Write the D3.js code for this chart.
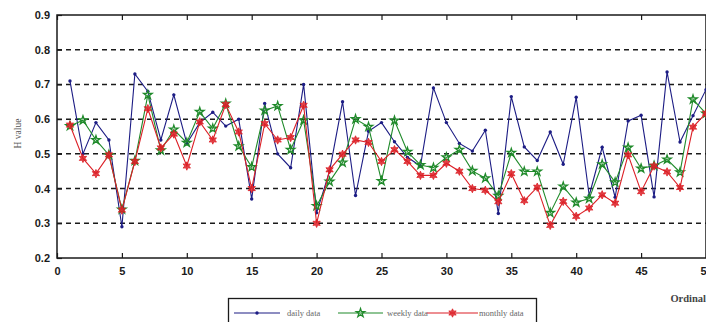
<!DOCTYPE html>
<html>
<head>
<meta charset="utf-8">
<script src="https://cdn.jsdelivr.net/npm/d3@7"></script>
<style>
  html, body { margin: 0; padding: 0; background: #fff; }
  svg { display: block; }
</style>
</head>
<body>
<svg id="chart"></svg>
<script>
const ordinal = [1, 2, 3, 4, 5, 6, 7, 8, 9, 10, 11, 12, 13, 14, 15, 16, 17, 18, 19, 20,
  21, 22, 23, 24, 25, 26, 27, 28, 29, 30, 31, 32, 33, 34, 35, 36, 37, 38, 39, 40,
  41, 42, 43, 44, 45, 46, 47, 48, 49, 50];

const daily = [0.71, 0.50, 0.59, 0.54, 0.29, 0.73, 0.68, 0.54, 0.67, 0.53,
  0.59, 0.62, 0.58, 0.60, 0.37, 0.645, 0.50, 0.46, 0.70, 0.33,
  0.45, 0.65, 0.38, 0.565, 0.59, 0.535, 0.49, 0.465, 0.69, 0.59,
  0.53, 0.508, 0.568, 0.328, 0.665, 0.52, 0.481, 0.563, 0.47, 0.663,
  0.38, 0.519, 0.375, 0.595, 0.611, 0.376, 0.736, 0.534, 0.61, 0.685];

const weekly = [0.58, 0.597, 0.54, 0.497, 0.34, 0.48, 0.67, 0.51, 0.57, 0.532,
  0.621, 0.573, 0.645, 0.522, 0.462, 0.625, 0.638, 0.512, 0.597, 0.35,
  0.42, 0.475, 0.60, 0.578, 0.422, 0.596, 0.506, 0.468, 0.46, 0.49,
  0.512, 0.451, 0.43, 0.379, 0.503, 0.449, 0.449, 0.33, 0.406, 0.36,
  0.371, 0.47, 0.418, 0.518, 0.458, 0.466, 0.484, 0.447, 0.657, 0.616];

const monthly = [0.583, 0.487, 0.443, 0.497, 0.338, 0.478, 0.63, 0.517, 0.557, 0.465,
  0.592, 0.54, 0.642, 0.563, 0.40, 0.587, 0.54, 0.547, 0.64, 0.30,
  0.454, 0.499, 0.54, 0.533, 0.478, 0.512, 0.478, 0.438, 0.438, 0.473,
  0.45, 0.40, 0.395, 0.362, 0.443, 0.365, 0.404, 0.294, 0.363, 0.32,
  0.344, 0.382, 0.358, 0.497, 0.391, 0.465, 0.448, 0.403, 0.577, 0.617];

const xTicks = [0, 5, 10, 15, 20, 25, 30, 35, 40, 45, 50];
const yTicks = [0.2, 0.3, 0.4, 0.5, 0.6, 0.7, 0.8, 0.9];
const gridValues = [0.3, 0.4, 0.5, 0.6, 0.7, 0.8];

const seriesNames = ['daily data', 'weekly data', 'monthly data'];

const width = 706, height = 322;
const margin = { top: 15, right: 0, bottom: 64, left: 57 };

const svg = d3.select('#chart')
  .attr('width', width)
  .attr('height', height);

const x = d3.scaleLinear().domain([0, 50]).range([margin.left, width - margin.right]);
const y = d3.scaleLinear().domain([0.2, 0.9]).range([height - margin.bottom, margin.top]);

const ink = '#1a1a1a';

// dashed grid
svg.append('g')
  .selectAll('line')
  .data(gridValues)
  .join('line')
  .attr('x1', x(0))
  .attr('x2', x(50))
  .attr('y1', d => y(d))
  .attr('y2', d => y(d))
  .attr('stroke', ink)
  .attr('stroke-width', 1.5)
  .attr('stroke-dasharray', '5,4');

// axes (ticks pointing inward, matlab style)
const tickFont = g => g.selectAll('text')
  .attr('font-family', 'Arial, "Liberation Sans", sans-serif')
  .attr('font-weight', 'bold')
  .attr('font-size', 11)
  .attr('fill', ink);

svg.append('g')
  .attr('transform', `translate(0,${y(0.2)})`)
  .call(d3.axisBottom(x).tickValues(xTicks).tickSize(-5).tickPadding(9).tickFormat(d3.format('d')))
  .call(g => g.select('.domain').remove())
  .call(tickFont);

svg.append('g')
  .attr('transform', `translate(0,${y(0.9)})`)
  .call(d3.axisTop(x).tickValues(xTicks).tickSize(-5).tickFormat(''))
  .call(g => g.select('.domain').remove());

svg.append('g')
  .attr('transform', `translate(${x(0)},0)`)
  .call(d3.axisLeft(y).tickValues(yTicks).tickSize(-5).tickPadding(7).tickFormat(d3.format('.1f')))
  .call(g => g.select('.domain').remove())
  .call(tickFont);

svg.selectAll('.tick line').attr('stroke', ink).attr('stroke-width', 1.2);

// frame
svg.append('rect')
  .attr('x', x(0))
  .attr('y', y(0.9))
  .attr('width', x(50) - x(0))
  .attr('height', y(0.2) - y(0.9))
  .attr('fill', 'none')
  .attr('stroke', ink)
  .attr('stroke-width', 1.5);

// series
const hexagram = (r) => {
  const p = d3.path();
  for (let i = 0; i < 12; i++) {
    const a = Math.PI / 6 * i - Math.PI / 2;
    const rr = i % 2 === 0 ? r : r * 0.5;
    const px = rr * Math.cos(a), py = rr * Math.sin(a);
    if (i === 0) p.moveTo(px, py); else p.lineTo(px, py);
  }
  p.closePath();
  return p.toString();
};

const series = [
  { name: seriesNames[0], values: daily, color: '#1c1c84', marker: 'dot' },
  { name: seriesNames[1], values: weekly, color: '#1f8a2a', marker: 'pentagram' },
  { name: seriesNames[2], values: monthly, color: '#dc1f26', marker: 'hexagram' },
];

const line = d3.line()
  .x((d, i) => x(ordinal[i]))
  .y(d => y(d));

const drawMarker = (sel, s) => {
  if (s.marker === 'dot') {
    sel.append('circle').attr('r', 1.7).attr('fill', s.color);
  } else if (s.marker === 'pentagram') {
    sel.append('path')
      .attr('d', d3.symbol(d3.symbolStar, 22)())
      .attr('fill', 'none')
      .attr('stroke', s.color)
      .attr('stroke-width', 1.3);
  } else {
    sel.append('path')
      .attr('d', hexagram(4.2))
      .attr('fill', s.color)
      .attr('fill-opacity', 0.85)
      .attr('stroke', s.color)
      .attr('stroke-width', 0.8);
  }
};

// matlab draws in order daily, weekly, monthly
series.forEach(s => {
  const g = svg.append('g');
  g.append('path')
    .datum(s.values)
    .attr('d', line)
    .attr('fill', 'none')
    .attr('stroke', s.color)
    .attr('stroke-width', 1.1);

  g.selectAll('g.pt')
    .data(s.values)
    .join('g')
    .attr('class', 'pt')
    .attr('transform', (d, i) => `translate(${x(ordinal[i])},${y(d)})`)
    .each(function () { drawMarker(d3.select(this), s); });
});

// y label
svg.append('text')
  .attr('transform', `translate(21,${(y(0.9) + y(0.2)) / 2 - 3}) rotate(-90)`)
  .attr('text-anchor', 'middle')
  .attr('font-family', '"Liberation Serif", "Times New Roman", serif')
  .attr('font-size', 9.5)
  .attr('fill', '#555')
  .text('H value');

// x label
svg.append('text')
  .attr('x', 706)
  .attr('y', 302)
  .attr('text-anchor', 'end')
  .attr('font-family', '"Liberation Serif", "Times New Roman", serif')
  .attr('font-weight', 'bold')
  .attr('font-size', 10.5)
  .attr('fill', '#444')
  .text('Ordinal');

// legend
const legend = svg.append('g');
legend.append('rect')
  .attr('x', 228.5)
  .attr('y', 298.5)
  .attr('width', 308)
  .attr('height', 30)
  .attr('fill', '#fff')
  .attr('stroke', ink)
  .attr('stroke-width', 1.3);

const legendItems = [
  { s: series[0], x1: 234, x2: 280, tx: 287 },
  { s: series[1], x1: 338, x2: 383, tx: 387 },
  { s: series[2], x1: 427, x2: 478, tx: 479 },
];
const ly = 313;
legendItems.forEach(it => {
  legend.append('line')
    .attr('x1', it.x1).attr('x2', it.x2)
    .attr('y1', ly).attr('y2', ly)
    .attr('stroke', it.s.color)
    .attr('stroke-width', 1.1);
  const m = legend.append('g').attr('transform', `translate(${(it.x1 + it.x2) / 2},${ly})`);
  drawMarker(m, it.s);
  legend.append('text')
    .attr('x', it.tx)
    .attr('y', ly + 3)
    .attr('font-family', '"Liberation Serif", "Times New Roman", serif')
    .attr('font-size', 8.5)
    .attr('fill', '#666')
    .text(it.s.name);
});
</script>
</body>
</html>
